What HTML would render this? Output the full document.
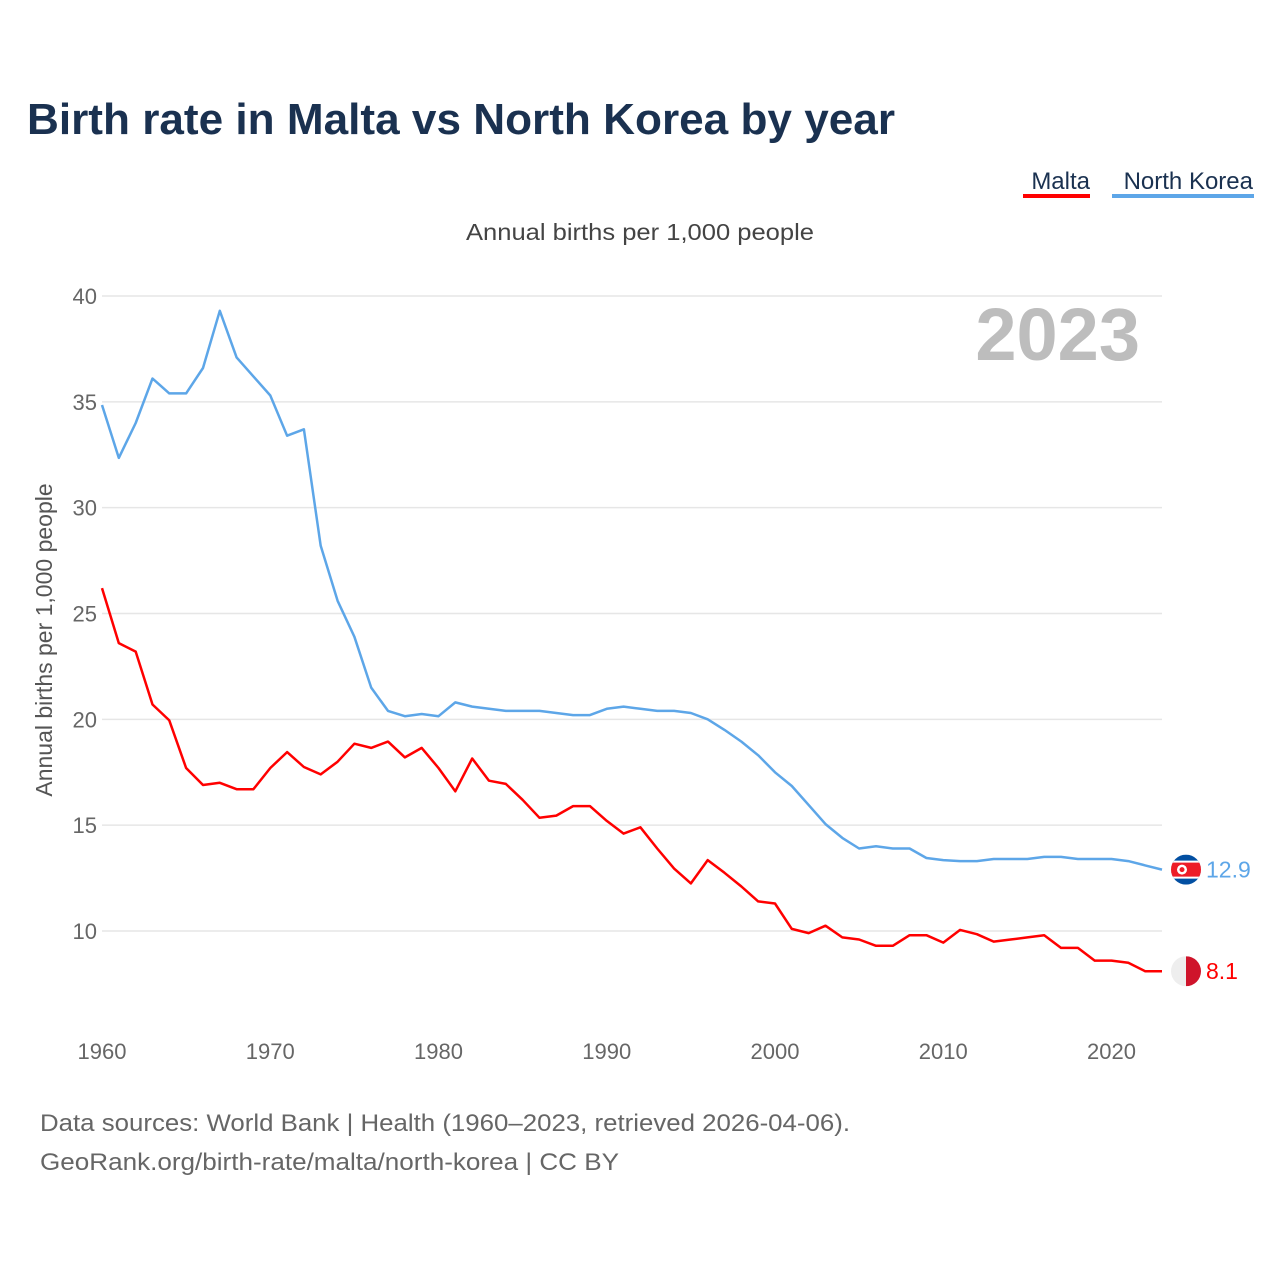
<!DOCTYPE html>
<html><head><meta charset="utf-8"><style>
body{margin:0;background:#fff;font-family:"Liberation Sans",sans-serif;}
#wrap{position:relative;width:1280px;height:1280px;overflow:hidden;}
</style></head><body><div id="wrap">
<svg id="chart" width="1280" height="1280" style="position:absolute;left:0;top:0">
<text x="27" y="134" font-size="44" font-weight="bold" fill="#1a3150" textLength="868" lengthAdjust="spacingAndGlyphs">Birth rate in Malta vs North Korea by year</text>
<g><text x="1090" y="189" font-size="24" fill="#1a3150" text-anchor="end">Malta</text><rect x="1023" y="194" width="67" height="4" fill="#ff0000"/></g>
<g><text x="1253" y="189" font-size="24" fill="#1a3150" text-anchor="end">North Korea</text><rect x="1112" y="194" width="142" height="4" fill="#5da6e8"/></g>
<text x="466" y="240" font-size="23" fill="#444" textLength="348" lengthAdjust="spacingAndGlyphs">Annual births per 1,000 people</text>
<text x="1140" y="360" font-size="74" font-weight="bold" fill="#bdbdbd" text-anchor="end">2023</text>
<text transform="translate(52,640) rotate(-90)" font-size="23" fill="#555" text-anchor="middle">Annual births per 1,000 people</text>
<g id="grid"></g><g id="yticks"></g><g id="xticks"></g><g id="lines"></g>
<text x="40" y="1131" font-size="24" fill="#666" textLength="810" lengthAdjust="spacingAndGlyphs">Data sources: World Bank | Health (1960–2023, retrieved 2026-04-06).</text>
<text x="40" y="1170" font-size="24" fill="#666" textLength="579" lengthAdjust="spacingAndGlyphs">GeoRank.org/birth-rate/malta/north-korea | CC BY</text>
</svg></div>
<script>
const years=[];for(let y=1960;y<=2023;y++)years.push(y);
const northKorea=[34.85,32.35,34.0,36.1,35.4,35.4,36.6,39.3,37.1,36.2,35.3,33.4,33.7,28.2,25.6,23.9,21.5,20.4,20.15,20.25,20.15,20.8,20.6,20.5,20.4,20.4,20.4,20.3,20.2,20.2,20.5,20.6,20.5,20.4,20.4,20.3,20.0,19.5,18.95,18.3,17.5,16.85,15.95,15.05,14.4,13.9,14.0,13.9,13.9,13.45,13.35,13.3,13.3,13.4,13.4,13.4,13.5,13.5,13.4,13.4,13.4,13.3,13.1,12.9];
const malta=[26.2,23.6,23.2,20.7,19.95,17.7,16.9,17.0,16.7,16.7,17.7,18.45,17.75,17.4,18.0,18.85,18.65,18.95,18.2,18.65,17.7,16.6,18.15,17.1,16.95,16.2,15.35,15.45,15.9,15.9,15.2,14.6,14.9,13.9,12.95,12.25,13.35,12.75,12.1,11.4,11.3,10.1,9.9,10.25,9.7,9.6,9.3,9.3,9.8,9.8,9.45,10.05,9.85,9.5,9.6,9.7,9.8,9.2,9.2,8.6,8.6,8.5,8.1,8.1];
const yTicks=[10,15,20,25,30,35,40];
const xTicks=[1960,1970,1980,1990,2000,2010,2020];
const NS="http://www.w3.org/2000/svg";
const X=v=>102+(v-1960)*(1060/63);
const Y=v=>296+(40-v)*(635/30);
function mk(t,a,p){const e=document.createElementNS(NS,t);for(const k in a)e.setAttribute(k,a[k]);document.getElementById(p).appendChild(e);return e;}
yTicks.forEach(v=>{
 const l=mk('line',{x1:102,x2:1162,y1:Y(v),y2:Y(v),stroke:'#e6e6e6','stroke-width':1.5},'grid');
 
 
 const t=mk('text',{x:97,y:Y(v)+8,'font-size':22,fill:'#666','text-anchor':'end'},'yticks');t.textContent=v;
 
 
});
xTicks.forEach(v=>{
 const t=mk('text',{x:X(v),y:1059,'font-size':22,fill:'#666','text-anchor':'middle'},'xticks');t.textContent=v;
 
 
});
function series(d,c,n){
 const p=mk('path',{d:d.map((v,i)=>(i?'L':'M')+X(years[i]).toFixed(1)+','+Y(v).toFixed(1)).join(''),fill:'none',stroke:c,'stroke-width':2.5,'stroke-linejoin':'round'},'lines');
 
 
 const last=d[d.length-1];
 const t=mk('text',{x:1206,y:Y(last)+8,'font-size':23,fill:c},'lines');t.textContent=last;
 
 
 return Y(last);
}
const yk=series(northKorea,'#5da6e8','north-korea');
const ym=series(malta,'#ff0000','malta');
const g1=mk('g',{},'lines');


g1.innerHTML=`<clipPath id="c1"><circle cx="1186" cy="${yk}" r="15"/></clipPath><g clip-path="url(#c1)"><rect x="1171" y="${yk-15}" width="30" height="30" fill="#024fa2"/><rect x="1171" y="${yk-9}" width="30" height="18" fill="#fff"/><rect x="1171" y="${yk-7}" width="30" height="14" fill="#ed1c27"/><circle cx="1182" cy="${yk}" r="5" fill="#fff"/><circle cx="1182" cy="${yk}" r="2.5" fill="#ed1c27"/></g>`;
const g2=mk('g',{},'lines');


g2.innerHTML=`<clipPath id="c2"><circle cx="1186" cy="${ym}" r="15"/></clipPath><g clip-path="url(#c2)"><rect x="1171" y="${ym-15}" width="15" height="30" fill="#eee"/><rect x="1186" y="${ym-15}" width="15" height="30" fill="#cf142b"/></g>`;
</script></body></html>
